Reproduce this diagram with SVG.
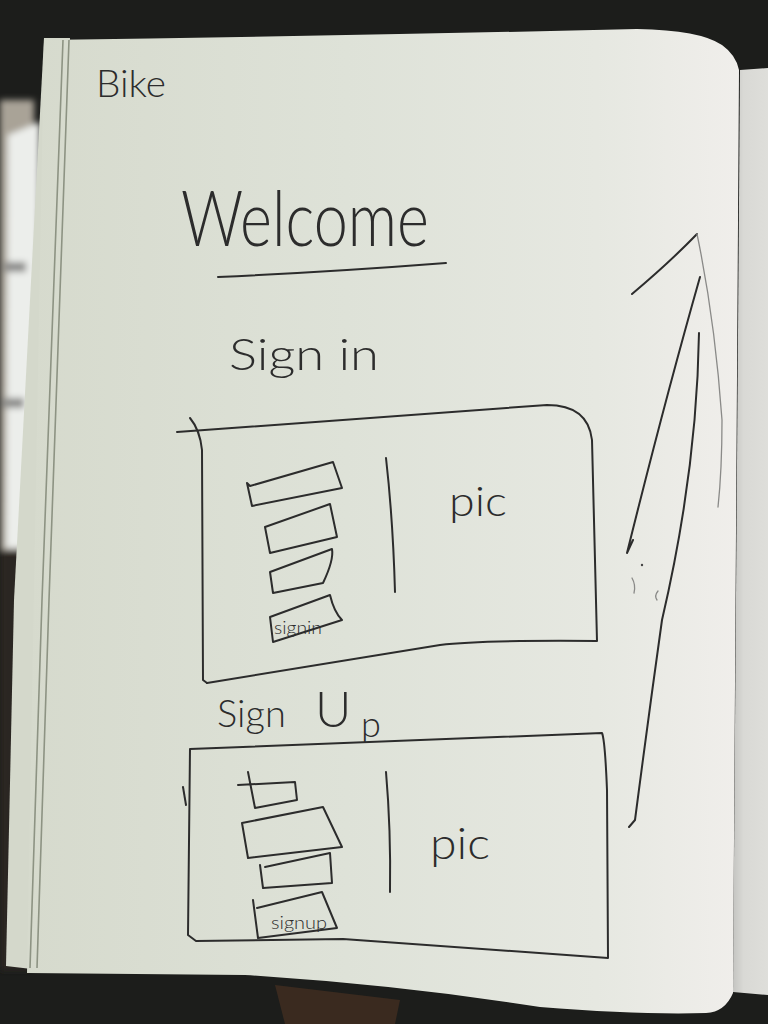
<svg xmlns="http://www.w3.org/2000/svg" width="768" height="1024" viewBox="0 0 768 1024">
  <defs>
    <linearGradient id="paperShade" x1="0" y1="0" x2="1" y2="0">
      <stop offset="0" stop-color="#d6dacd"/>
      <stop offset="0.45" stop-color="#dee2d8"/>
      <stop offset="0.8" stop-color="#e6e8e1"/>
      <stop offset="1" stop-color="#f0eeeb"/>
    </linearGradient>
    <linearGradient id="nextPage" x1="0" y1="0" x2="1" y2="0">
      <stop offset="0" stop-color="#c4c4c1"/>
      <stop offset="0.3" stop-color="#d9d9d5"/>
      <stop offset="1" stop-color="#dededa"/>
    </linearGradient>
    <filter id="soft" x="-20%" y="-20%" width="140%" height="140%">
      <feGaussianBlur stdDeviation="3"/>
    </filter>
    <style>
      .ink { fill: none; stroke: #2c2c2c; stroke-width: 2; stroke-linecap: round; stroke-linejoin: round; }
      .faint { fill: none; stroke: #8a8a88; stroke-width: 1.3; stroke-linecap: round; }
      .hand { font-family: "Lato", "Open Sans", "Liberation Sans", sans-serif; font-weight: 300; fill: #2c2c2c; }
      .edge { fill: none; stroke: #8d9383; stroke-width: 1.6; }
    </style>
  </defs>

  <!-- desk and surroundings -->
  <rect x="0" y="0" width="768" height="1024" fill="#1c1d1b"/>
  <path d="M275,985 L400,1000 L395,1024 L285,1024 Z" fill="#3a2a1f"/>
  <g filter="url(#soft)">
    <rect x="0" y="100" width="34" height="450" fill="#a9a397"/>
    <rect x="0" y="550" width="30" height="420" fill="#2a2622"/>
    <path d="M8,135 L40,122 L38,548 L6,548 Z" fill="#eceeeb"/>
    <rect x="4" y="262" width="22" height="10" fill="#8c8c8a"/>
    <rect x="2" y="398" width="22" height="10" fill="#8c8c8a"/>
  </g>
  <!-- facing page on the right -->
  <path d="M740,70 L768,68 L768,995 L733,992 Z" fill="url(#nextPage)"/>

  <!-- page stack on the left edge -->
  <path d="M44,38 L70,38 L40,970 L6,966 L14,600 Z" fill="#d4d8cb"/>

  <!-- sheet -->
  <path d="M44,40 Q 340,36 637,29 Q 700,30 722,45 Q 736,55 739,70 L 733,993 Q 725,1012 706,1013 Q 640,1015 540,1007 Q 400,985 245,975 L 27,973 Z" fill="url(#paperShade)"/>
  <path class="edge" d="M63,40 L42,600 L30,968"/>
  <path class="edge" d="M69,40 L49,600 L37,968"/>

  <!-- header -->
  <g id="brand">
    <text class="hand" x="96" y="97" font-size="38" textLength="70" lengthAdjust="spacingAndGlyphs">Bike</text>
  </g>
  <g id="title">
    <text class="hand" x="181" y="246" font-size="76" textLength="248" lengthAdjust="spacingAndGlyphs">Welcome</text>
    <path class="ink" d="M218,277 Q 330,272 446,263"/>
  </g>

  <!-- sign in panel -->
  <g id="sign-in">
    <text class="hand" x="229" y="370" font-size="44" textLength="150" lengthAdjust="spacingAndGlyphs">Sign in</text>
    <path class="ink" d="M177,432 L547,405 Q 588,405 592,440 L597,641 Q 480,640 440,645 L207,683"/>
    <path class="ink" d="M190,418 Q 200,430 202,450 L203,680 L207,683"/>
    <!-- input fields -->
    <path class="ink" d="M247,483 L250,486 L333,462 L342,488 L252,506 Z"/>
    <path class="ink" d="M265,527 L330,504 L337,537 L270,553 Z"/>
    <path class="ink" d="M270,572 L332,549 Q 334,560 323,583 L273,593 Z"/>
    <path class="ink" d="M270,617 L330,595 Q 334,612 342,620 L273,642 Z"/>
    <text class="hand" x="274" y="634" font-size="18" font-weight="400" textLength="48" lengthAdjust="spacingAndGlyphs">signin</text>
    <!-- divider and picture slot -->
    <path class="ink" d="M386,458 Q 393,520 395,592"/>
    <text class="hand" x="449" y="516" font-size="42" textLength="58" lengthAdjust="spacingAndGlyphs">pic</text>
  </g>

  <!-- sign up panel -->
  <g id="sign-up">
    <text class="hand" x="217" y="727" font-size="38">Sign<tspan x="315" y="727" font-size="50">U</tspan><tspan x="361" y="737" font-size="36">p</tspan></text>
    <path class="ink" d="M190,749 L602,733 Q 605,740 607,790 L608,958 L343,939 L196,941 L188,935 L190,749"/>
    <path class="ink" d="M183,787 L186,805"/>
    <!-- input fields -->
    <path class="ink" d="M248,772 L255,808 L297,800 L295,782 L238,785"/>
    <path class="ink" d="M242,823 L323,807 L342,847 L248,858 Z"/>
    <path class="ink" d="M260,865 L263,888 L332,883 L330,853 L265,867"/>
    <path class="ink" d="M253,900 L258,938 L337,928 L322,892 L257,908"/>
    <text class="hand" x="271" y="929" font-size="18" font-weight="400" textLength="56" lengthAdjust="spacingAndGlyphs">signup</text>
    <!-- divider and picture slot -->
    <path class="ink" d="M386,772 Q 391,830 390,892"/>
    <text class="hand" x="430" y="859" font-size="44" textLength="60" lengthAdjust="spacingAndGlyphs">pic</text>
  </g>

  <!-- upward arrow at the right margin -->
  <g id="arrow">
    <path class="ink" d="M632,294 Q 670,262 697,234"/>
    <path class="faint" d="M697,234 Q 715,320 722,420 Q 722,470 718,507"/>
    <path class="ink" d="M700,277 Q 665,400 627,553 L633,540"/>
    <path class="ink" d="M699,333 Q 697,470 662,620 Q 648,720 635,820 L629,827"/>
    <circle cx="642" cy="565" r="1.2" fill="#444"/>
    <path class="faint" d="M632,578 Q 636,585 634,593"/>
    <path class="faint" d="M658,591 Q 654,596 657,600"/>
  </g>
</svg>
